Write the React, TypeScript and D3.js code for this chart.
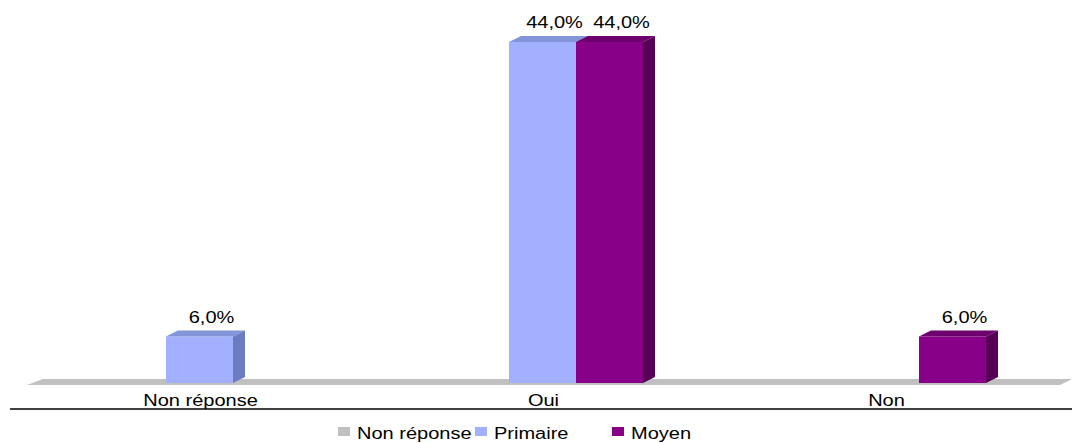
import React from "react";
import * as d3 from "d3";

const categories = ["Non réponse", "Oui", "Non"];
const seriesNames = ["Non réponse", "Primaire", "Moyen"];
const nonReponse = [0, 0, 0];
const primaire = [6, 44, 0];
const moyen = [0, 44, 6];
const valueTickMax = 44;

const W = 1072;
const H = 443;
const DX = 12;
const DY = 6;
const FONT = "'Liberation Sans', Arial, sans-serif";
const SX = 1.25;

const colors: Record<string, { front: string; top: string; side: string }> = {
  "Non réponse": { front: "#c0c0c0", top: "#a8a8a8", side: "#909090" },
  Primaire: { front: "#a2b0ff", top: "#8494d8", side: "#6c7cc0" },
  Moyen: { front: "#880088", top: "#6e006e", side: "#560056" },
};

function fmt(v: number) {
  return v.toFixed(1).replace(".", ",") + "%";
}

function SText({ x, y, children, anchor = "middle" }: { x: number; y: number; children: React.ReactNode; anchor?: string }) {
  return (
    <g transform={`translate(${x},${y}) scale(${SX},1)`}>
      <text x={0} y={0} textAnchor={anchor as any} fontFamily={FONT} fontSize={16} fill="#000">
        {children}
      </text>
    </g>
  );
}

export default function App() {
  const data = [nonReponse, primaire, moyen];
  const x0 = d3.scaleBand<string>().domain(categories).range([28, 1057]).padding(0);
  const x1 = d3
    .scaleBand<string>()
    .domain(seriesNames)
    .range([0, x0.bandwidth()])
    .paddingInner(0)
    .paddingOuter(1.06);
  const y = d3.scaleLinear().domain([0, valueTickMax]).range([383, 42]);
  const base = y(0);

  const bars: React.ReactNode[] = [];
  const labels: React.ReactNode[] = [];
  categories.forEach((cat, ci) => {
    seriesNames.forEach((s, si) => {
      const v = data[si][ci];
      if (!v) return;
      const bx = (x0(cat) as number) + (x1(s) as number);
      const bw = x1.bandwidth();
      const ty = y(v);
      const c = colors[s];
      bars.push(
        <g key={`${ci}-${si}`}>
          <rect x={bx} y={ty} width={bw} height={base - ty} fill={c.front} />
          <polygon
            points={`${bx},${ty} ${bx + DX},${ty - DY} ${bx + bw + DX},${ty - DY} ${bx + bw},${ty}`}
            fill={c.top}
          />
          <polygon
            points={`${bx + bw},${ty} ${bx + bw + DX},${ty - DY} ${bx + bw + DX},${base - DY} ${bx + bw},${base}`}
            fill={c.side}
          />
        </g>
      );
      labels.push(
        <SText key={`l${ci}-${si}`} x={bx + bw / 2 + DX} y={ty - DY - 8}>
          {fmt(v)}
        </SText>
      );
    });
  });

  const legendX = [338, 475, 612];

  return (
    <svg
      width={W}
      height={H}
      style={{ position: "absolute", left: 0, top: 0, background: "#fff" }}
    >
      <polygon points={`27,385 1060,385 1072,379 43,379`} fill="#c0c0c0" />
      {bars}
      {labels}
      {categories.map((c) => (
        <SText key={c} x={(x0(c) as number) + x0.bandwidth() / 2 + 1} y={406}>
          {c}
        </SText>
      ))}
      <line x1={10} x2={1072} y1={409} y2={409} stroke="#000" strokeWidth={1.5} />
      {seriesNames.map((s, i) => (
        <g key={s}>
          <rect x={legendX[i]} y={427} width={12} height={9} fill={colors[s].front} />
          <SText x={legendX[i] + 19} y={439} anchor="start">
            {s}
          </SText>
        </g>
      ))}
    </svg>
  );
}
